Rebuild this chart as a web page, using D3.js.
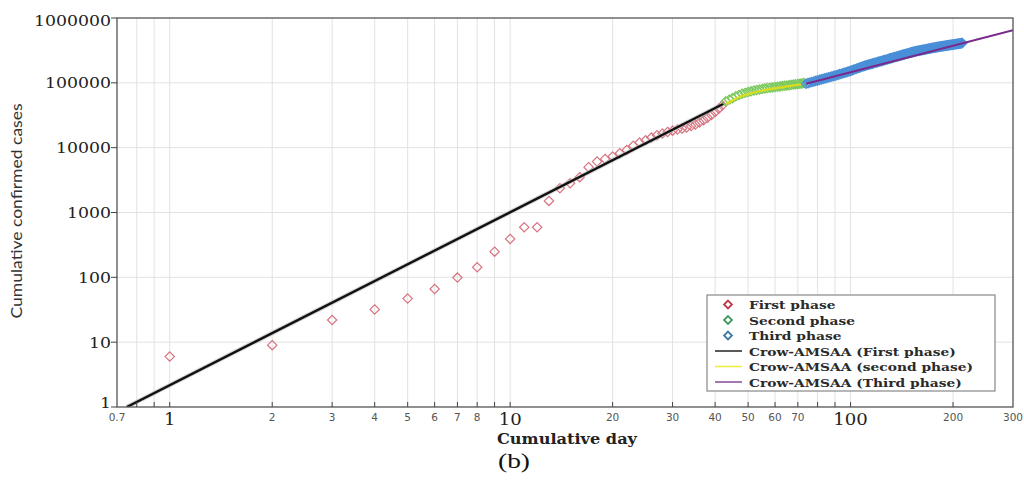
<!DOCTYPE html>
<html>
<head>
<meta charset="utf-8">
<script src="https://cdn.jsdelivr.net/npm/d3@7"></script>
<style>
  html, body { margin: 0; padding: 0; background: #ffffff; }
  svg { display: block; }
</style>
</head>
<body>
<svg id="chart" width="1024" height="483"></svg>
<script>
// ---------------- data ----------------
const firstDays = [1,2,3,4,5,6,7,8,9,10,11,12,13,14,15,16,17,18,19,20,21,22,23,24,25,26,27,28,29,30,31,32,33,34,35,36,37,38,39,40,41,42];
const firstCases = [6,9,22,32,47,66,99,143,249,391,593,593,1510,2370,2830,3510,5000,6100,6700,7300,8200,9200,10700,12000,13000,14300,15500,16500,17500,18300,19000,19800,20500,21500,22800,24500,26500,29000,32000,35500,40000,45000];

const secondStartDay = 43;
const secondCasesK = [52,55,58,62,65,68,70,72,74,76,77.5,79,80.5,82,83,84,85,86,87,88,89,90,91,92,93,94,95,96,97,98,99];

const thirdStartDay = 74;
const thirdCasesK = [97,99,101,103,105,107,109,111,113,115,117,119,
  121,123,125,127,129,131,134,136,138,141,143,145,148,150,
  153,156,159,162,165,168,171,174,177,180,183,
  186,188,191,193,196,198,201,204,206,209,211,214,216,219,
  222,225,227,230,233,236,239,241,244,247,250,253,255,258,261,
  264,267,269,272,275,278,281,283,286,289,292,295,298,300,303,306,
  308,310,312,314,316,318,320,322,324,326,328,330,333,335,337,339,341,343,345,347,349,351,353,355,357,359,
  361,362,364,365,367,369,370,372,373,375,377,378,380,381,383,385,386,388,389,391,393,394,396,397,399,401,402,404,405,407,409,411];

// Crow-AMSAA fitted curves
const fitFirst = [[0.748, 1], [42.5, 48000]];
const fitSecond = [[43, 47000], [47, 60000], [52, 71000], [58, 80000], [65, 88000], [73, 96000]];
const fitThird = [[74, 97000], [300, 650000]];

const xTickValues = [0.7,0.8,0.9,1,2,3,4,5,6,7,8,9,10,20,30,40,50,60,70,80,90,100,200,300];
const xTickLabels = ["0.7","","","","2","3","4","5","6","7","8","","","20","30","40","50","60","70","","","","200","300"];
const xMajorTicks = [1, 10, 100];
const xMajorLabels = ["1", "10", "100"];
const yTickValues = [1,10,100,1000,10000,100000,1000000];
const yTickLabels = ["1","10","100","1000","10000","100000","1000000"];

const legendLabels = ["First phase","Second phase","Third phase","Crow-AMSAA (First phase)","Crow-AMSAA (second phase)","Crow-AMSAA (Third phase)"];

// ---------------- drawing ----------------
const svg = d3.select("#chart");
const L = 117, R = 1013, T = 18, B = 407;

const x = d3.scaleLog().domain([0.7, 300]).range([L, R]);
const y = d3.scaleLog().domain([1, 1000000]).range([B, T]);

function stretch(sel, w) {
  sel.attr("textLength", w).attr("lengthAdjust", "spacingAndGlyphs");
  return sel;
}

// grid
const grid = svg.append("g");
grid.selectAll("line.vg").data(xTickValues.filter(v => v > 0.7 && v < 300)).enter()
  .append("line").attr("class", "vg")
  .attr("x1", d => x(d)).attr("x2", d => x(d)).attr("y1", T).attr("y2", B)
  .attr("stroke", "#e2e2e2").attr("stroke-width", 1);
grid.selectAll("line.hg").data(yTickValues.filter(v => v > 1 && v < 1e6)).enter()
  .append("line").attr("class", "hg")
  .attr("x1", L).attr("x2", R).attr("y1", d => y(d)).attr("y2", d => y(d))
  .attr("stroke", "#e2e2e2").attr("stroke-width", 1);

// clip
svg.append("defs").append("clipPath").attr("id", "clip")
  .append("rect").attr("x", L).attr("y", T).attr("width", R - L).attr("height", B - T);
const plot = svg.append("g").attr("clip-path", "url(#clip)");

const diamond = d3.symbol().type(d3.symbolDiamond2).size(55);

function drawPoints(data, color, sw) {
  plot.append("g").selectAll("path").data(data).enter().append("path")
    .attr("d", diamond)
    .attr("transform", d => `translate(${x(d[0])},${y(d[1])})`)
    .attr("fill", "none")
    .attr("stroke", color)
    .attr("stroke-width", sw);
}

const firstData = firstDays.map((d, i) => [d, firstCases[i]]);
const secondData = secondCasesK.map((v, i) => [secondStartDay + i, v * 1000]);
const thirdData = thirdCasesK.map((v, i) => [thirdStartDay + i, v * 1000]);

const line = d3.line().x(d => x(d[0])).y(d => y(d[1]));
const curve = d3.line().x(d => x(d[0])).y(d => y(d[1])).curve(d3.curveMonotoneX);

drawPoints(firstData, "#d8737f", 1.2);
plot.append("path").datum(fitFirst).attr("d", line)
  .attr("fill", "none").attr("stroke", "#bbbbbb").attr("stroke-width", 4.5).attr("opacity", 0.6);
plot.append("path").datum(fitFirst).attr("d", line)
  .attr("fill", "none").attr("stroke", "#111111").attr("stroke-width", 2.4);

drawPoints(secondData, "#78c85a", 1.2);
plot.append("path").datum(fitSecond).attr("d", curve)
  .attr("fill", "none").attr("stroke", "#dcdc1e").attr("stroke-width", 2.2);

drawPoints(thirdData, "#4a8fd8", 1.3);
plot.append("path").datum(fitThird).attr("d", line)
  .attr("fill", "none").attr("stroke", "#7a2a8c").attr("stroke-width", 2);

// frame
svg.append("rect").attr("x", L).attr("y", T).attr("width", R - L).attr("height", B - T)
  .attr("fill", "none").attr("stroke", "#555").attr("stroke-width", 1.3);

// x ticks (inward)
svg.append("g").selectAll("line").data(xTickValues.filter(v => v > 0.7 && v < 300)).enter()
  .append("line").attr("x1", d => x(d)).attr("x2", d => x(d)).attr("y1", B).attr("y2", B - 5)
  .attr("stroke", "#444").attr("stroke-width", 1);
svg.append("g").selectAll("text").data(xTickValues.map((v, i) => [v, xTickLabels[i]]).filter(d => d[1] !== "")).enter()
  .append("text")
  .attr("x", d => x(d[0])).attr("y", 421)
  .attr("text-anchor", "middle")
  .attr("font-family", "DejaVu Sans, sans-serif").attr("font-size", 10.5)
  .attr("fill", "#555")
  .text(d => d[1]);
svg.append("g").selectAll("text").data(xMajorTicks.map((v, i) => [v, xMajorLabels[i]])).enter()
  .append("text")
  .attr("x", d => x(d[0])).attr("y", 425)
  .attr("text-anchor", "middle")
  .attr("font-family", "DejaVu Serif, serif").attr("font-size", 16.5)
  .attr("fill", "#222")
  .text(d => d[1])
  .each(function(d) { stretch(d3.select(this), d[1].length * 11.5); });

// y ticks (outward)
svg.append("g").selectAll("line").data(yTickValues).enter()
  .append("line").attr("x1", L - 6).attr("x2", L).attr("y1", d => y(d)).attr("y2", d => y(d))
  .attr("stroke", "#444").attr("stroke-width", 1);
svg.append("g").selectAll("text").data(yTickValues.map((v, i) => [v, yTickLabels[i], i])).enter()
  .append("text")
  .attr("x", 111)
  .attr("y", d => y(d[0]) + (d[2] === 0 ? 1 : (d[2] === yTickValues.length - 1 ? 8 : 5.5)))
  .attr("text-anchor", "end")
  .attr("font-family", "DejaVu Serif, serif").attr("font-size", 15)
  .attr("fill", "#222")
  .text(d => d[1])
  .each(function(d) { stretch(d3.select(this), d[1].length * 11); });

// axis titles
stretch(svg.append("text")
  .attr("transform", "translate(22,211) rotate(-90)")
  .attr("text-anchor", "middle")
  .attr("font-family", "Lato, sans-serif").attr("font-size", 16)
  .attr("fill", "#333")
  .text("Cumulative confirmed cases"), 215);

stretch(svg.append("text")
  .attr("x", 567).attr("y", 444)
  .attr("text-anchor", "middle")
  .attr("font-family", "DejaVu Serif, serif").attr("font-weight", "bold").attr("font-size", 14)
  .attr("fill", "#222")
  .text("Cumulative day"), 140);

stretch(svg.append("text")
  .attr("x", 514).attr("y", 468)
  .attr("text-anchor", "middle")
  .attr("font-family", "Liberation Serif, serif").attr("font-size", 21)
  .attr("fill", "#111")
  .text("(b)"), 32);

// legend
const lg = svg.append("g");
lg.append("rect").attr("x", 707).attr("y", 295).attr("width", 288).attr("height", 96)
  .attr("fill", "#fff").attr("stroke", "#888").attr("stroke-width", 1.2);
const legendColors = ["#b83a4c", "#3d9a5c", "#3a7aa3", "#222222", "#ecec3a", "#8a4a9a"];
const rows = lg.selectAll("g.row").data(legendLabels).enter().append("g").attr("class", "row")
  .attr("transform", (d, i) => `translate(0,${304.5 + i * 15.5})`);
rows.each(function(d, i) {
  const g = d3.select(this);
  if (i < 3) {
    g.append("path").attr("d", d3.symbol().type(d3.symbolDiamond2).size(40))
      .attr("transform", "translate(728,0)")
      .attr("fill", "none").attr("stroke", legendColors[i]).attr("stroke-width", 1.8);
  } else {
    g.append("line").attr("x1", 715).attr("x2", 742).attr("y1", 0).attr("y2", 0)
      .attr("stroke", legendColors[i]).attr("stroke-width", 1.5);
  }
  const t = g.append("text").attr("x", 749).attr("y", 4.5)
    .attr("font-family", "DejaVu Serif, serif").attr("font-weight", "bold").attr("font-size", 11.5)
    .attr("fill", "#2a2a2a").text(d);
  const w = t.node().getComputedTextLength();
  stretch(t, w * 1.2);
});
</script>
</body>
</html>
